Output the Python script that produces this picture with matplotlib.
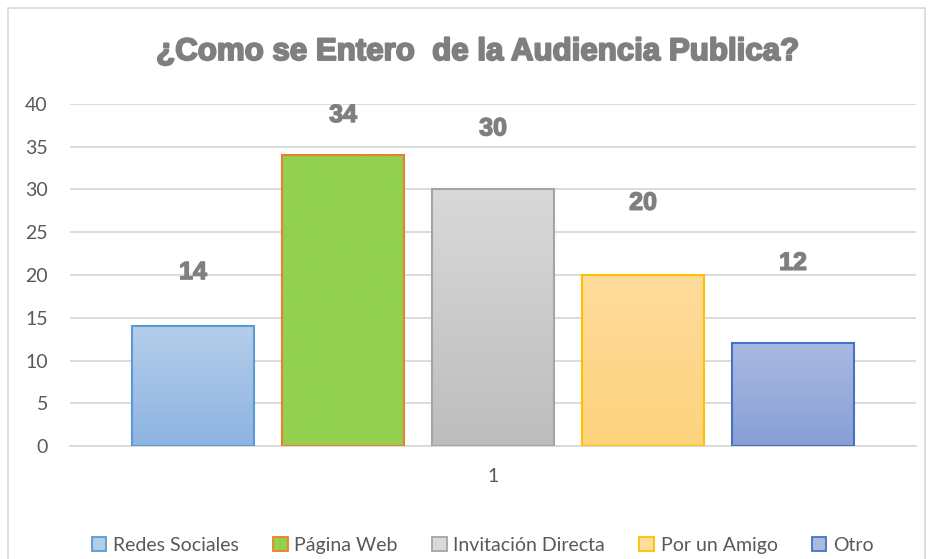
import numpy as np
import matplotlib
matplotlib.use('Agg')
import matplotlib.pyplot as plt
import matplotlib.patheffects as pe
from matplotlib.patches import Patch, Rectangle
from matplotlib.colors import LinearSegmentedColormap

# datos del grafico
series = ['Redes Sociales', 'Página Web', 'Invitación Directa', 'Por un Amigo', 'Otro']
valores = [14, 34, 30, 20, 12]
categoria = ['1']
y_ticks = [0, 5, 10, 15, 20, 25, 30, 35, 40]

# estilos (color superior, color inferior, borde)
estilos = [
    ('#B4CDEA', '#8EB4E2', '#5B9BD5'),
    ('#92D050', '#92D050', '#ED7D31'),
    ('#D9D9D9', '#BDBDBD', '#A5A5A5'),
    ('#FFDB9C', '#FDD37D', '#FFC000'),
    ('#AAB9E1', '#889FD5', '#4472C4'),
]
# desplazamiento de etiquetas (pt) sobre cada barra
label_offset = [39, 29, 44, 52, 58]

fig = plt.figure(figsize=(9.3, 5.59), dpi=100)
ax = fig.add_axes([0.0753, 0.2021, 0.9097, 0.6119])

ancho = 0.1442
paso = 0.1773
grueso = [pe.withStroke(linewidth=1.0, foreground='#7F7F7F')]
for i, (nombre, v) in enumerate(zip(series, valores)):
    x = (i - 2) * paso
    top, bot, edge = estilos[i]
    cmap = LinearSegmentedColormap.from_list('g%d' % i, [bot, top])
    grad = np.linspace(0, 1, 100).reshape(-1, 1)
    im = ax.imshow(grad, cmap=cmap, origin='lower', aspect='auto',
                   extent=[x - ancho / 2, x + ancho / 2, 0, v], zorder=2)
    rect = Rectangle((x - ancho / 2, 0), ancho, v, facecolor='none',
                     edgecolor=edge, linewidth=1.5, zorder=3)
    ax.add_patch(rect)
    im.set_clip_path(rect)
    ax.annotate(str(v), (x, v), xytext=(0, label_offset[i]), textcoords='offset points',
                ha='center', va='center', fontsize=18, fontweight='bold',
                color='#7F7F7F', family='Liberation Sans', path_effects=grueso)

ax.set_xlim(-0.5, 0.5)
ax.set_ylim(0, 40)
ax.set_yticks(y_ticks)
ax.set_xticks([0])
ax.set_xticklabels(categoria)
ax.grid(axis='y', color='#D9D9D9', linewidth=1.3, zorder=0)
ax.set_axisbelow(True)
for s in ['left', 'right', 'top']:
    ax.spines[s].set_visible(False)
ax.spines['bottom'].set_color('#D9D9D9')
ax.spines['bottom'].set_linewidth(1.3)
ax.tick_params(axis='both', length=0, labelsize=14, labelcolor='#595959')
ax.tick_params(axis='y', pad=16)
ax.tick_params(axis='x', pad=16)
for lbl in ax.get_xticklabels() + ax.get_yticklabels():
    lbl.set_family('Lato')

fig.text(0.5135, 0.907, '¿Como se Entero  de la Audiencia Publica?', ha='center', va='center',
         fontsize=22.5, fontweight='bold', color='#7F7F7F', family='Liberation Sans',
         path_effects=[pe.withStroke(linewidth=1.4, foreground='#7F7F7F')])

handles = [Patch(facecolor=estilos[i][0], edgecolor=estilos[i][2], linewidth=1.3, label=series[i])
           for i in range(len(series))]
fig.legend(handles=handles, loc='center', bbox_to_anchor=(0.519, 0.025), ncol=5, frameon=False,
           prop={'family': 'Lato', 'size': 14}, labelcolor='#595959',
           handlelength=0.75, handleheight=0.75, handletextpad=0.35, columnspacing=1.75)

# borde del area del grafico
fig.add_artist(Rectangle((8 / 930, -0.05), 917 / 930, 1.05 - 8 / 559, transform=fig.transFigure,
                         facecolor='none', edgecolor='#D9D9D9', linewidth=1.2))

fig.savefig('out.png', dpi=100)
